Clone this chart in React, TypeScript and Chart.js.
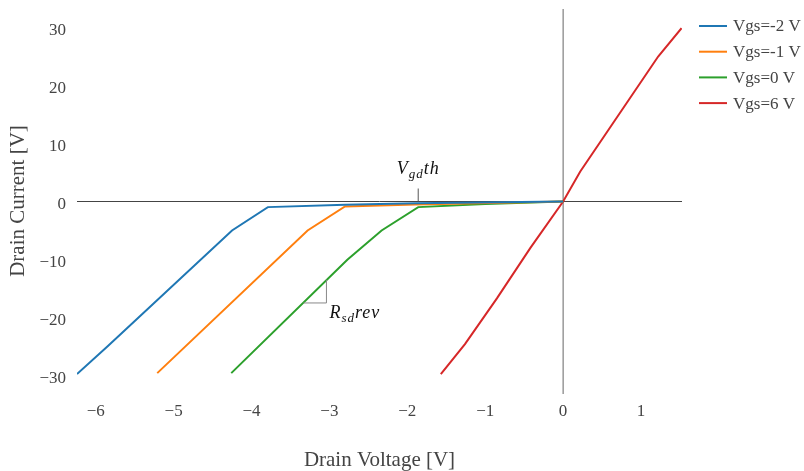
import React, { useEffect, useRef } from "react";
import { Chart, registerables } from "chart.js";

Chart.register(...registerables);

const seriesNames = ["Vgs=-2 V", "Vgs=-1 V", "Vgs=0 V", "Vgs=6 V"];
const seriesColors = ["#1f77b4", "#ff7f0e", "#2ca02c", "#d62728"];

const blueX = [-6.24, -5.85, -4.25, -3.79, -2.8, -1.9, 0];
const blueY = [-29.76, -25.0, -5.0, -0.97, -0.55, -0.3, 0];
const orangeX = [-5.21, -3.28, -2.8, -1.9, 0];
const orangeY = [-29.6, -5.0, -0.86, -0.5, 0];
const greenX = [-4.26, -2.77, -2.33, -1.86, -1.0, 0];
const greenY = [-29.6, -10.05, -5.0, -0.97, -0.45, 0];
const redX = [-1.57, -1.26, -0.85, -0.42, 0, 0.22, 1.22, 1.52];
const redY = [-29.76, -24.6, -16.7, -8.0, 0, 5.17, 25.0, 29.9];

const xTicks = [-6, -5, -4, -3, -2, -1, 0, 1];
const yTicks = [-30, -20, -10, 0, 10, 20, 30];

const xTitle = "Drain Voltage [V]";
const yTitle = "Drain Current [V]";

// annotation anchors (data coordinates)
const vgdX = -1.86;
const rsdTriX = [-3.333, -3.038, -3.038];
const rsdTriY = [-17.5, -17.5, -13.5];

const FONT = '"Liberation Serif", "Times New Roman", serif';

function pts(xs: number[], ys: number[]) {
  return xs.map((x, i) => ({ x, y: ys[i] }));
}

function drawMath(ctx: CanvasRenderingContext2D, parts: { t: string; sub?: boolean }[], x: number, y: number, align: "left" | "center") {
  const main = `italic 18px ${FONT}`;
  const sub = `italic 13px ${FONT}`;
  const ls = 1;
  (ctx as any).letterSpacing = `${ls}px`;
  let total = 0;
  for (const p of parts) {
    ctx.font = p.sub ? sub : main;
    total += ctx.measureText(p.t).width;
  }
  let cx = align === "center" ? x - total / 2 : x;
  ctx.textAlign = "left";
  ctx.textBaseline = "alphabetic";
  ctx.fillStyle = "#111";
  for (const p of parts) {
    ctx.font = p.sub ? sub : main;
    ctx.fillText(p.t, cx, p.sub ? y + 4 : y);
    cx += ctx.measureText(p.t).width;
  }
  (ctx as any).letterSpacing = "0px";
}

const overlayPlugin = {
  id: "overlay",
  beforeDatasetsDraw(chart: any) {
    const { ctx, chartArea, scales } = chart;
    const x0 = scales.x.getPixelForValue(0);
    const y0 = scales.y.getPixelForValue(0);
    ctx.save();
    ctx.strokeStyle = "#444";
    ctx.lineWidth = 1;
    ctx.beginPath();
    ctx.moveTo(chartArea.left, y0);
    ctx.lineTo(chartArea.right, y0);
    ctx.stroke();
    ctx.strokeStyle = "#666";
    ctx.beginPath();
    ctx.moveTo(x0, chartArea.top);
    ctx.lineTo(x0, chartArea.bottom);
    ctx.stroke();
    ctx.restore();
  },
  afterDraw(chart: any) {
    const { ctx, chartArea, scales } = chart;
    ctx.save();
    // axis titles
    ctx.fillStyle = "#444";
    ctx.font = `21px ${FONT}`;
    ctx.textAlign = "center";
    ctx.textBaseline = "middle";
    ctx.fillText(xTitle, (chartArea.left + chartArea.right) / 2, 460);
    ctx.save();
    ctx.translate(18, 201);
    ctx.rotate(-Math.PI / 2);
    ctx.fillText(yTitle, 0, 0);
    ctx.restore();

    // legend
    ctx.font = `17px ${FONT}`;
    ctx.textAlign = "left";
    ctx.textBaseline = "middle";
    seriesNames.forEach((name, i) => {
      const ly = 26 + i * 25.7;
      ctx.strokeStyle = seriesColors[i];
      ctx.lineWidth = 2;
      ctx.beginPath();
      ctx.moveTo(699, ly);
      ctx.lineTo(727, ly);
      ctx.stroke();
      ctx.fillStyle = "#444";
      ctx.fillText(name, 733, ly + 1);
    });

    // V_gd th annotation
    const vx = scales.x.getPixelForValue(vgdX);
    const vy = scales.y.getPixelForValue(0);
    ctx.strokeStyle = "#555";
    ctx.lineWidth = 1;
    ctx.beginPath();
    ctx.moveTo(vx, vy);
    ctx.lineTo(vx, vy - 13);
    ctx.stroke();
    drawMath(ctx, [{ t: "V" }, { t: "gd", sub: true }, { t: "th" }], vx, vy - 28, "center");

    // R_sd rev annotation
    ctx.strokeStyle = "#888";
    ctx.lineWidth = 1;
    ctx.beginPath();
    rsdTriX.forEach((x, i) => {
      const px = scales.x.getPixelForValue(x);
      const py = scales.y.getPixelForValue(rsdTriY[i]);
      if (i === 0) ctx.moveTo(px, py);
      else ctx.lineTo(px, py);
    });
    ctx.stroke();
    const rx = scales.x.getPixelForValue(rsdTriX[1]);
    const ry = scales.y.getPixelForValue(rsdTriY[1]);
    drawMath(ctx, [{ t: "R" }, { t: "sd", sub: true }, { t: "rev" }], rx + 3, ry + 15, "left");
    ctx.restore();
  },
};

const fmt = (v: any) => String(v).replace("-", "\u2212");

const zeroPad = (s: any) => {
  s.paddingTop = 0;
  s.paddingBottom = 0;
  s.paddingLeft = 0;
  s.paddingRight = 0;
};

export default function App() {
  const ref = useRef<HTMLCanvasElement | null>(null);
  useEffect(() => {
    document.body.style.margin = "0";
    const canvas = ref.current!;
    const datasets = [
      pts(blueX, blueY),
      pts(orangeX, orangeY),
      pts(greenX, greenY),
      pts(redX, redY),
    ].map((data, i) => ({
      label: seriesNames[i],
      data,
      borderColor: seriesColors[i],
      backgroundColor: seriesColors[i],
      borderWidth: 2,
      pointRadius: 0,
      showLine: true,
      fill: false,
      tension: 0,
    }));
    const chart = new Chart(canvas, {
      type: "scatter",
      data: { datasets },
      options: {
        responsive: false,
        animation: false,
        layout: { padding: { top: 9, right: 122, left: 0, bottom: 0 } },
        plugins: { legend: { display: false }, tooltip: { enabled: false } },
        scales: {
          x: {
            type: "linear",
            min: -6.24,
            max: 1.526,
            grid: { display: false },
            border: { display: false },
            afterBuildTicks: (s: any) => {
              s.ticks = xTicks.map((v) => ({ value: v }));
            },
            afterFit: (s: any) => {
              s.height = 77;
              zeroPad(s);
            },
            ticks: {
              autoSkip: false,
              maxRotation: 0,
              padding: -1,
              color: "#444",
              font: { family: FONT, size: 17 },
              callback: fmt,
            },
          },
          y: {
            type: "linear",
            min: -33.2,
            max: 33.2,
            grid: { display: false },
            border: { display: false },
            afterBuildTicks: (s: any) => {
              s.ticks = yTicks.map((v) => ({ value: v }));
            },
            afterFit: (s: any) => {
              s.width = 77;
              zeroPad(s);
            },
            ticks: {
              autoSkip: false,
              padding: 3,
              labelOffset: 3,
              color: "#444",
              font: { family: FONT, size: 17 },
              callback: fmt,
            },
          },
        },
      },
      plugins: [overlayPlugin],
    } as any);
    return () => chart.destroy();
  }, []);
  return (
    <div style={{ width: 804, height: 471 }}>
      <canvas ref={ref} width={804} height={471} />
    </div>
  );
}
